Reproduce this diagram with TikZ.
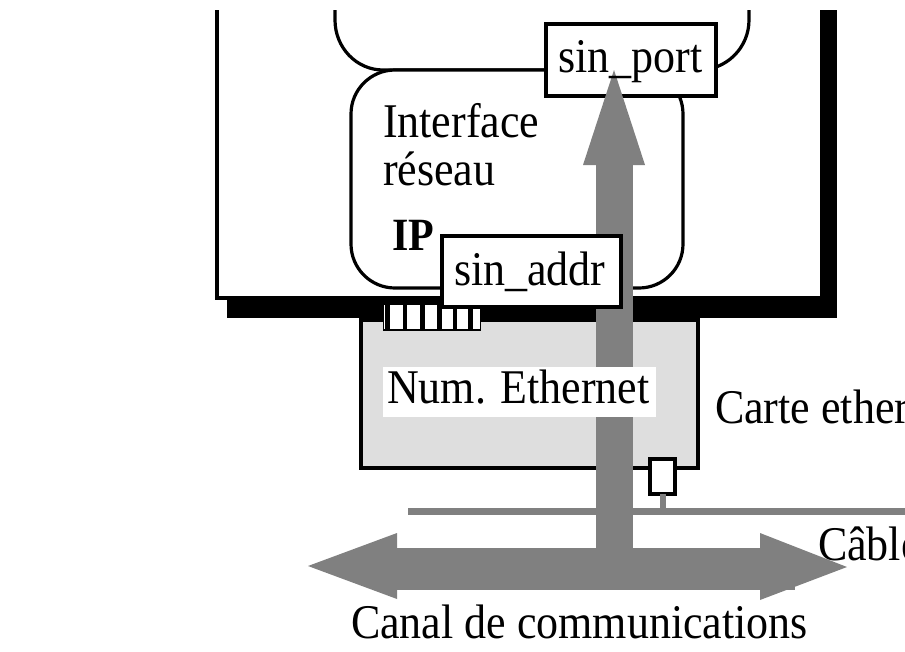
\documentclass[tikz,border=0pt]{standalone}
\usepackage{graphicx}
\usepackage{fontspec}
\setmainfont{Liberation Serif}
\definecolor{flowgray}{RGB}{128,128,128}
\definecolor{cardfill}{RGB}{222,222,222}
% labels are set slightly taller than the plain font
\newcommand{\tallt}[1]{\scalebox{1}[1.1]{#1}}
\tikzset{
  frame/.style={line width=3.2pt, draw=black},
  lbl/.style={inner sep=0pt, outer sep=0pt, font=\fontsize{44}{50}\selectfont},
  boldlbl/.style={inner sep=0pt, outer sep=0pt, font=\fontsize{42}{48}\selectfont\bfseries},
  fieldbox/.style={frame, fill=white, rectangle, inner sep=0pt, outer sep=0pt, anchor=north west},
  flow/.style={fill=flowgray, draw=none}
}
\begin{document}
\begin{tikzpicture}[x=1pt, y=-1pt]
\useasboundingbox (0,0) rectangle (905,651);
\begin{scope}
\clip (0,10) rectangle (905,651);

% host machine: drop shadow and frame
\fill[black] (227,0) rectangle (837,318);
\draw[frame, fill=white] (217,-10) rectangle (822,298);

% transport layer (top, partly visible)
\draw[frame, fill=white] (335,-10) -- (335,20)
  arc[start angle=180, end angle=90, x radius=48, y radius=50]
  -- (699,70)
  arc[start angle=90, end angle=0, radius=50]
  -- (749,-10);

% network interface layer
\draw[frame, fill=white, rounded corners=44pt] (351,70) rectangle (683,288);

% port field
\node[fieldbox, minimum width=170, minimum height=72] (portbox) at (546,24) {};

% ethernet card
\node[rectangle, frame, fill=cardfill, inner sep=0pt, outer sep=0pt,
      anchor=north west, minimum width=337, minimum height=148] (card) at (361,320) {};

% bus connector of the card
\fill[white] (383,305) rectangle (481,331);
\draw[black, line width=0.8pt] (383,305) -- (383,331) (480,305) -- (480,331);
\draw[black, line width=2.6pt] (383,330) -- (481,330);
\foreach \bx in {387.5,405,422.5,439.5,455,470.5}
  \draw[black, line width=4.6pt] (\bx,305) -- (\bx,330);

% cable, transceiver and its stem
\coordinate (cableL) at (408,511.5);
\coordinate (cableR) at (910,511.5);
\draw[flowgray, line width=7pt] (cableL) -- (cableR);
\node[rectangle, frame, fill=white, inner sep=0pt, outer sep=0pt, anchor=north west,
      minimum width=25, minimum height=35] (xcvr) at (650,459) {};
\draw[flowgray, line width=6pt] (xcvr.south) -- (xcvr.south |- cableL);

% data path: vertical arrow up to the port
\fill[flow] (596,548) rectangle (633,164);
\fill[flow] (583,165) -- (645,165) -- (614,70) -- cycle;

% communication channel: double arrow
\fill[flow] (397,548) rectangle (795,590);
\fill[flow] (397,533) -- (397,599) -- (308,566) -- cycle;
\fill[flow] (760,533) -- (760,600) -- (847,567) -- cycle;

% address field
\node[fieldbox, minimum width=179, minimum height=71] (addrbox) at (442,236) {};

% ethernet number label
\node[fill=white, rectangle, inner sep=0pt, outer sep=0pt, anchor=north west,
      minimum width=273, minimum height=50] (numbg) at (383,367) {};

% texts
\node[lbl, anchor=base west] (port) at (558,72) {\tallt{sin\_port}};
\node[lbl, anchor=base west] (addr) at (454,285) {\tallt{sin\_addr}};
\node[lbl, anchor=base west] (iface1) at (383,137) {\tallt{Interface}};
\node[lbl, anchor=base west] (iface2) at (383,185) {\tallt{réseau}};
\node[boldlbl, anchor=base west] (ip) at (392,250) {\tallt{IP}};
\node[lbl, anchor=base west] (num) at (387,403) {\tallt{Num. Ethernet}};
\node[lbl, anchor=base west] (cardlbl) at (715,423) {\tallt{Carte ethernet}};
\node[lbl, anchor=base west] (cable) at (818,560) {\tallt{Câble}};
\node[lbl, anchor=base west] (canal) at (351,638) {\tallt{Canal de communications}};
\end{scope}
\end{tikzpicture}
\end{document}
